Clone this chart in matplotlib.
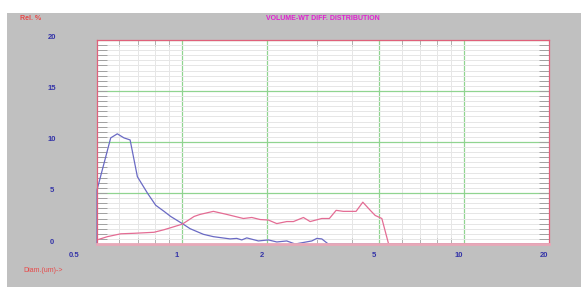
import numpy as np
import matplotlib
matplotlib.use("Agg")
import matplotlib.pyplot as plt
from matplotlib.patches import Rectangle
from matplotlib.transforms import offset_copy

blue_diam = [0.5, 0.5, 0.559, 0.590, 0.623, 0.655, 0.695, 0.754, 0.807, 0.864,
             0.912, 1.003, 1.069, 1.191, 1.292, 1.481, 1.564, 1.629, 1.697,
             1.866, 2.024, 2.168, 2.352, 2.518, 2.695, 2.885, 3.005, 3.13,
             3.30, 20.0]
blue_pct = [0.0, 5.3, 10.4, 10.8, 10.4, 10.2, 6.6, 5.0, 3.8, 3.2,
            2.7, 2.0, 1.5, 0.95, 0.72, 0.5, 0.55, 0.4, 0.6,
            0.3, 0.4, 0.2, 0.3, 0.0, 0.15, 0.3, 0.55, 0.5,
            0.0, 0.0]

red_diam = [0.5, 0.544, 0.607, 0.676, 0.796, 0.864, 0.938, 1.003, 1.104, 1.159,
            1.292, 1.442, 1.651, 1.768, 1.892, 2.024, 2.168, 2.352, 2.484,
            2.695, 2.846, 3.13, 3.33, 3.52, 3.73, 4.14, 4.375, 4.65, 4.84,
            5.11, 5.40, 20.0]
red_pct = [0.4, 0.72, 1.0, 1.05, 1.15, 1.4, 1.7, 1.95, 2.7, 2.9,
           3.2, 2.9, 2.5, 2.6, 2.4, 2.35, 2.0, 2.2, 2.2,
           2.6, 2.2, 2.5, 2.5, 3.3, 3.2, 3.2, 4.1, 3.3, 2.8,
           2.5, 0.0, 0.0]

x_labels = [0.5, 1, 2, 5, 10, 20]
y_labels = [0, 5, 10, 15, 20]

BG = "#c0c0c0"
LABEL_BLUE = "#3434a8"
FONT = "Liberation Sans"

fig = plt.figure(figsize=(5.81, 2.87), dpi=100)
fig.patch.set_facecolor("white")
fig.add_artist(Rectangle((0.012, 0), 0.988, 0.955, transform=fig.transFigure,
                         facecolor=BG, edgecolor="none", zorder=-10))

ax = fig.add_axes([0.1670, 0.1498, 0.778, 0.711])
ax.set_facecolor("white")
ax.set_xscale("log")
ax.set_xlim(0.5, 20)
ax.set_ylim(0, 20)

ax.set_xticks([1, 2, 5, 10])
ax.set_xticks([0.6, 0.7, 0.8, 0.9, 3, 4, 6, 7, 8, 9], minor=True)
ax.set_yticks([0, 5, 10, 15, 20])
ax.set_yticks(np.arange(0, 20.01, 0.5), minor=True)
ax.set_xticklabels([])
ax.set_xticklabels([], minor=True)
ax.set_yticklabels([])
ax.set_yticklabels([], minor=True)

ax.grid(which="major", color="#90d490", linewidth=0.9)
ax.grid(which="minor", color="#e6e6e6", linewidth=0.7)
ax.tick_params(axis="x", which="major", length=0)
ax.tick_params(axis="x", which="minor", direction="in", length=4,
               color="#b0b0b0", width=0.7, top=True, bottom=True)
ax.tick_params(axis="y", which="both", direction="in", length=7,
               color="#a0a0a0", width=0.7, left=True, right=True)
ax.set_axisbelow(True)

for side in ["top", "right", "left"]:
    ax.spines[side].set_color("#e0607a")
    ax.spines[side].set_linewidth(0.9)
ax.spines["bottom"].set_color("#e8a8b8")
ax.spines["bottom"].set_linewidth(2)

ax.plot(blue_diam, blue_pct, color="#6a6ac4", linewidth=0.9, clip_on=False)
ax.plot(red_diam, red_pct, color="#e46c94", linewidth=0.9, clip_on=False)

# tick labels sit a little left of their grid lines in the original
for v in x_labels:
    dx = -23 if v == 0.5 else -5
    tr = offset_copy(ax.get_xaxis_transform(), fig=fig, x=dx, y=-11, units="dots")
    ax.text(v, 0, f"{v:g}", transform=tr, ha="center", va="center",
            fontsize=5.5, fontweight="bold", color=LABEL_BLUE, family=FONT)
for v in y_labels:
    tr = offset_copy(ax.get_yaxis_transform(), fig=fig, x=-45, y=2, units="dots")
    ax.text(0, v, f"{v}", transform=tr, ha="center", va="center",
            fontsize=5.5, fontweight="bold", color=LABEL_BLUE, family=FONT)

fig.text(323 / 581, 1 - 19 / 287, "VOLUME-WT DIFF. DISTRIBUTION", ha="center",
         va="center", fontsize=5, fontweight="bold", color="#e020d0", family=FONT)
fig.text(20 / 581, 1 - 19 / 287, "Rel. %", ha="left", va="center",
         fontsize=5, fontweight="bold", color="#e84848", family=FONT)
fig.text(23 / 581, 1 - 271 / 287, "Diam.(um)->", ha="left", va="center",
         fontsize=5, color="#e84848", family=FONT)

fig.savefig("out.png", dpi=100, facecolor=fig.get_facecolor())
